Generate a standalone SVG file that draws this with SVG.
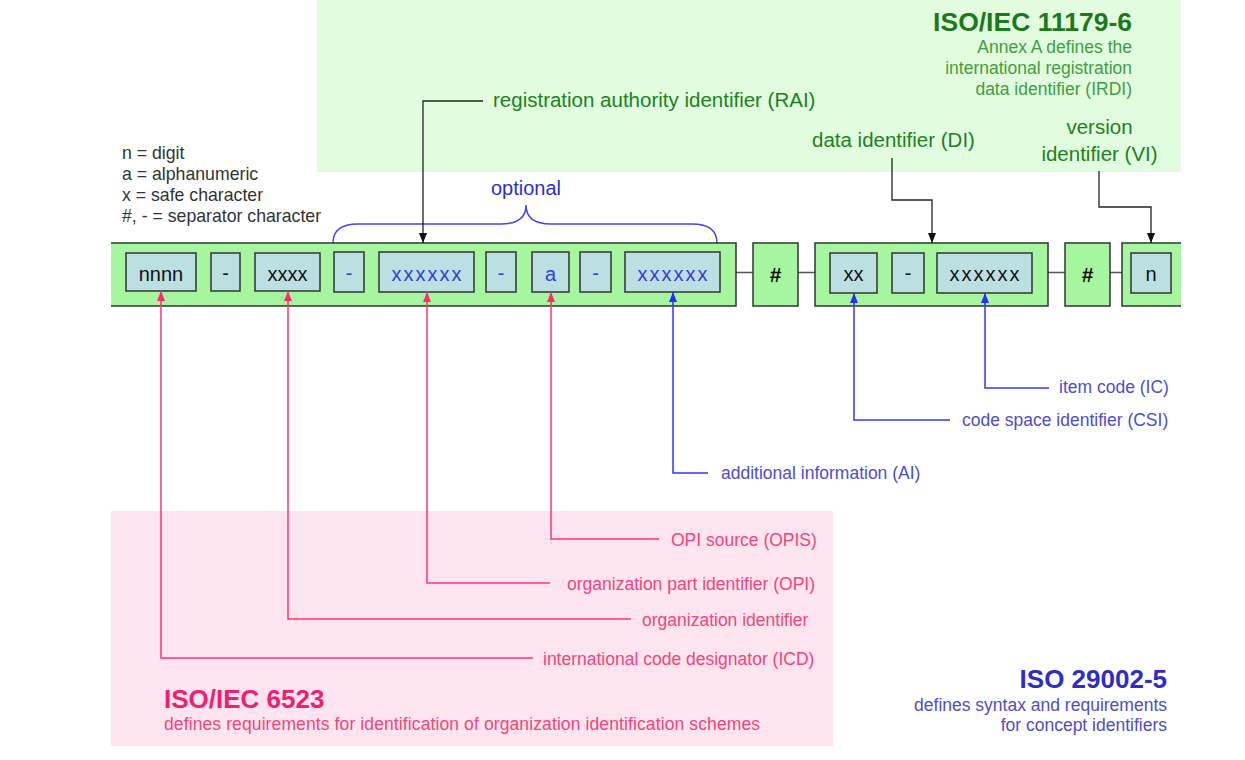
<svg xmlns="http://www.w3.org/2000/svg" width="1245" height="760" viewBox="0 0 1245 760">
<defs>
<marker id="arrK" markerWidth="10" markerHeight="10" refX="10" refY="5" orient="auto" markerUnits="userSpaceOnUse"><path d="M0,1 L10,5 L0,9 z" fill="#111"/></marker>
<marker id="arrP" markerWidth="10" markerHeight="10" refX="10" refY="5" orient="auto" markerUnits="userSpaceOnUse"><path d="M0,1 L10,5 L0,9 z" fill="#ff2a6d"/></marker>
<marker id="arrB" markerWidth="10" markerHeight="10" refX="10" refY="5" orient="auto" markerUnits="userSpaceOnUse"><path d="M0,1 L10,5 L0,9 z" fill="#2b2bff"/></marker>
</defs>
<style>
text{font-family:"Liberation Sans",Arial,sans-serif}
.grp{fill:#a6f6a0;stroke:#333;stroke-width:1.5}
.gfill{fill:#a6f6a0}
.gedge{fill:none;stroke:#333;stroke-width:1.5}
.box{fill:#bce0e2;stroke:#333;stroke-width:1.5}
.bt{font-size:20px;text-anchor:middle;fill:#111}
.bb{fill:#3a3ad8}
.hash{font-size:21px;font-weight:bold;text-anchor:middle;fill:#111}
.link{stroke:#555;stroke-width:1.5;fill:none}
.ck{stroke:#222;stroke-width:1.3;fill:none;marker-end:url(#arrK)}
.cp{stroke:#ff3377;stroke-width:1.5;fill:none;marker-end:url(#arrP)}
.cb{stroke:#3333ff;stroke-width:1.5;fill:none;marker-end:url(#arrB)}
.lg{font-size:17.7px;fill:#333}
.gl{font-size:20.5px;fill:#1c821c}
.gs{font-size:17.5px;fill:#3f9f3f}
.pl{font-size:17.5px;fill:#f2447b}
.bl{font-size:17.5px;fill:#4d4dd0}
</style>

<g id="backgrounds">
<rect x="317" y="0" width="864" height="172" fill="#e2fce0"/>
<rect x="111" y="511" width="722" height="235" fill="#fde4ee"/>
</g>

<g id="titles">
<text x="1132" y="31" text-anchor="end" style="font-size:26.5px;font-weight:bold;fill:#1a7a1a">ISO/IEC 11179-6</text>
<text class="gs" x="1132" y="52.5" text-anchor="end">Annex A defines the</text>
<text class="gs" x="1132" y="73.5" text-anchor="end">international registration</text>
<text class="gs" x="1132" y="94.5" text-anchor="end">data identifier (IRDI)</text>
<text x="164" y="708" style="font-size:26px;font-weight:bold;fill:#f0206e">ISO/IEC 6523</text>
<text class="pl" x="164" y="729.5" textLength="596" lengthAdjust="spacing">defines requirements for identification of organization identification schemes</text>
<text x="1167" y="688" text-anchor="end" style="font-size:26px;font-weight:bold;fill:#2d2dc8">ISO 29002-5</text>
<text class="bl" x="1167" y="711" text-anchor="end">defines syntax and requirements</text>
<text class="bl" x="1167" y="731" text-anchor="end">for concept identifiers</text>
</g>

<g id="legend">
<text class="lg" x="122" y="159">n = digit</text>
<text class="lg" x="122" y="180">a = alphanumeric</text>
<text class="lg" x="122" y="201">x = safe character</text>
<text class="lg" x="122" y="222">#, - = separator character</text>
</g>

<g id="optional">
<path d="M333,243 Q333,224 358,224 L501,224 Q526,224 526,205 Q526,224 551,224 L692,224 Q717,224 717,243" fill="none" stroke="#4444ee" stroke-width="1.5"/>
<text x="526" y="195" text-anchor="middle" style="font-size:20px;fill:#2d2dd8">optional</text>
</g>

<g id="links">
<path class="link" d="M196,272.5H211M240,272.5H255M320,272.5H334M364,272.5H379M474,272.5H486M516,272.5H532M569,272.5H580M611,272.5H625M736,272.5H753M798,272.5H815M877,272.5H892M924,272.5H937M1048,272.5H1065M1110,272.5H1122"/>
</g>

<g id="group-rai">
<rect class="gfill" x="111" y="243" width="625" height="63"/>
<path class="gedge" d="M111,243H736V306H111"/>
</g>
<g id="nnnn"><rect class="box" x="126" y="253" width="70" height="38"/><text class="bt" x="161" y="281">nnnn</text></g>
<g id="sep1"><rect class="box" x="211" y="253" width="29" height="38"/><text class="bt" x="225.5" y="280">-</text></g>
<g id="xxxx"><rect class="box" x="255" y="253" width="65" height="38"/><text class="bt" x="287.5" y="281">xxxx</text></g>
<g id="sep2"><rect class="box" x="334" y="252" width="30" height="40"/><text class="bt bb" x="349" y="280">-</text></g>
<g id="opi"><rect class="box" x="379" y="252" width="95" height="40"/><text class="bt bb" x="426.5" y="281" textLength="70" lengthAdjust="spacing">xxxxxx</text></g>
<g id="sep3"><rect class="box" x="486" y="252" width="30" height="40"/><text class="bt bb" x="501" y="280">-</text></g>
<g id="opis"><rect class="box" x="532" y="252" width="37" height="40"/><text class="bt bb" x="550.5" y="281">a</text></g>
<g id="sep4"><rect class="box" x="580" y="252" width="31" height="40"/><text class="bt bb" x="595.5" y="280">-</text></g>
<g id="ai"><rect class="box" x="625" y="252" width="95" height="40"/><text class="bt bb" x="672.5" y="281" textLength="70" lengthAdjust="spacing">xxxxxx</text></g>

<g id="hash1"><rect class="grp" x="753" y="243" width="45" height="63"/><text class="hash" x="775.5" y="282">#</text></g>

<g id="group-di"><rect class="grp" x="815" y="243" width="233" height="63"/></g>
<g id="csi"><rect class="box" x="830" y="253" width="47" height="40"/><text class="bt" x="853.5" y="281">xx</text></g>
<g id="sep5"><rect class="box" x="892" y="253" width="32" height="40"/><text class="bt" x="908" y="280">-</text></g>
<g id="ic"><rect class="box" x="937" y="253" width="95" height="40"/><text class="bt" x="984.5" y="281" textLength="70" lengthAdjust="spacing">xxxxxx</text></g>

<g id="hash2"><rect class="grp" x="1065" y="243" width="45" height="63"/><text class="hash" x="1087.5" y="282">#</text></g>

<g id="group-vi">
<rect class="gfill" x="1122" y="243" width="59" height="63"/>
<path class="gedge" d="M1181,243H1122V306H1181"/>
</g>
<g id="vi"><rect class="box" x="1131" y="253" width="40" height="40"/><text class="bt" x="1151" y="281">n</text></g>

<g id="connectors">
<path class="ck" d="M483,101H423V243"/>
<path class="ck" d="M892,158V200H932V243"/>
<path class="ck" d="M1099,171V207H1151V243"/>
<path class="cp" d="M533,658H161V291"/>
<path class="cp" d="M631,619H288V291"/>
<path class="cp" d="M550,583H427V292"/>
<path class="cp" d="M659,539H551V292"/>
<path class="cb" d="M708,473H673V292"/>
<path class="cb" d="M950,420H854V293"/>
<path class="cb" d="M1049,388H985V293"/>
</g>

<g id="labels">
<text class="gl" x="493" y="107">registration authority identifier (RAI)</text>
<text class="gl" x="812" y="147">data identifier (DI)</text>
<text class="gl" x="1099.5" y="134" text-anchor="middle">version</text>
<text class="gl" x="1099.5" y="161" text-anchor="middle">identifier (VI)</text>
<text class="pl" x="671" y="546">OPI source (OPIS)</text>
<text class="pl" x="567" y="590">organization part identifier (OPI)</text>
<text class="pl" x="642" y="626">organization identifier</text>
<text class="pl" x="543" y="665">international code designator (ICD)</text>
<text class="bl" x="721" y="479">additional information (AI)</text>
<text class="bl" x="962" y="426">code space identifier (CSI)</text>
<text class="bl" x="1059" y="393">item code (IC)</text>
</g>
</svg>
